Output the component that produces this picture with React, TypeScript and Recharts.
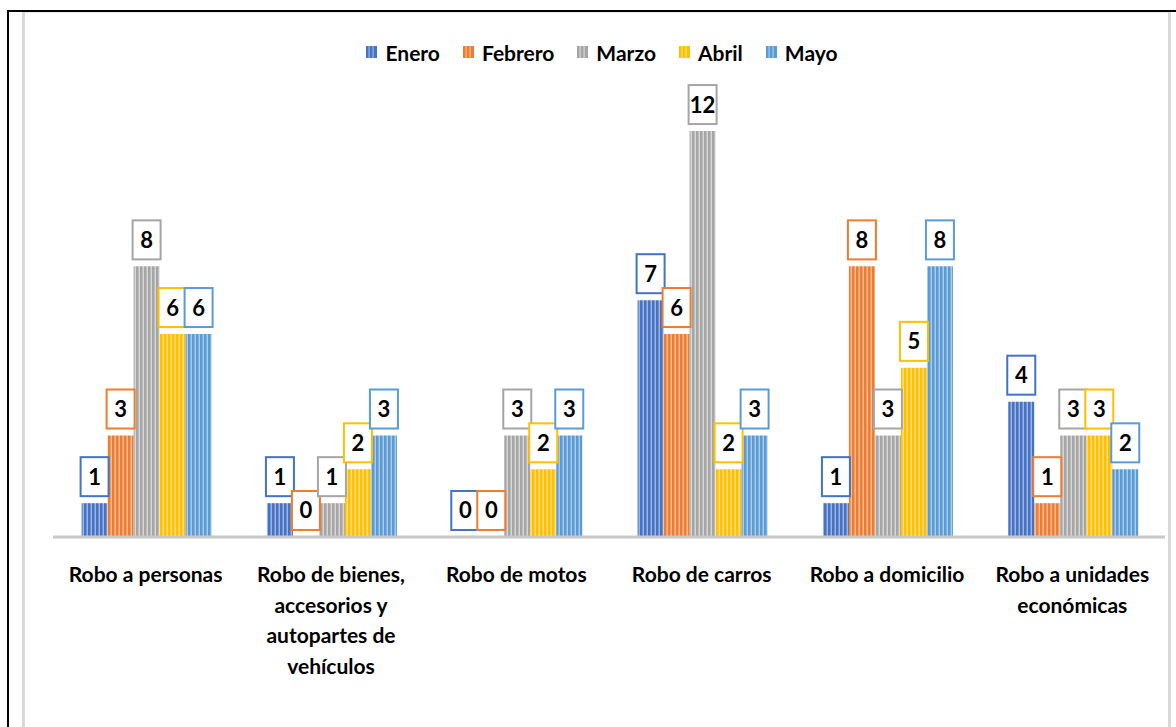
import React from "react";
import { BarChart, Bar, XAxis, YAxis, LabelList, Legend } from "recharts";

const categories = [
  "Robo a personas",
  "Robo de bienes,\naccesorios y\nautopartes de\nvehículos",
  "Robo de motos",
  "Robo de carros",
  "Robo a domicilio",
  "Robo a unidades\neconómicas",
];
const enero = [1, 1, 0, 7, 1, 4];
const febrero = [3, 0, 0, 6, 8, 1];
const marzo = [8, 1, 3, 12, 3, 3];
const abril = [6, 2, 2, 2, 5, 3];
const mayo = [6, 3, 3, 3, 8, 2];

const seriesNames = ["Enero", "Febrero", "Marzo", "Abril", "Mayo"];
const seriesValues = [enero, febrero, marzo, abril, mayo];
const seriesColors = ["#4472C4", "#ED7D31", "#A5A5A5", "#FFC000", "#5B9BD5"];
const seriesLight = ["#9DB4E0", "#F6BC95", "#D6D6D6", "#FFDF80", "#A8CBEA"];

const data = categories.map((c, i) => {
  const row: any = { category: c };
  seriesNames.forEach((s, j) => (row[s] = seriesValues[j][i]));
  return row;
});

const FONT = "Lato, 'Open Sans', sans-serif";

const CategoryTick = (props: any) => {
  const { x, y, payload } = props;
  const lines = String(payload.value).split("\n");
  return (
    <text x={x} y={y} textAnchor="middle" fontFamily={FONT} fontWeight={700} fontSize={21} fill="#000">
      {lines.map((l: string, i: number) => (
        <tspan key={i} x={x} dy={i === 0 ? 43 : 30.5}>
          {l}
        </tspan>
      ))}
    </text>
  );
};

const makeLabel = (color: string) => (props: any) => {
  const { x, y, width, value } = props;
  const cx = Number(x) + Number(width) / 2;
  const top = Number(y);
  const bw = 28;
  const bh = 39;
  const by = top - 7 - bh;
  return (
    <g>
      <rect x={cx - bw / 2} y={by} width={bw} height={bh} fill="#fff" stroke={color} strokeWidth={2} />
      <text x={cx} y={by + bh / 2 + 8} textAnchor="middle" fontFamily={FONT} fontWeight={700} fontSize={22} fill="#000">
        {value}
      </text>
    </g>
  );
};

const LegendContent = () => (
  <div style={{ display: "flex", justifyContent: "center", alignItems: "center", height: 28, fontFamily: FONT, fontWeight: 700, fontSize: 21, color: "#000", marginLeft: -14 }}>
    {seriesNames.map((s, j) => (
      <div key={s} style={{ display: "flex", alignItems: "center", marginRight: j < 4 ? 23 : 0 }}>
        <svg width={11} height={12} style={{ marginRight: 8, flexShrink: 0 }}>
          <rect x={0} y={0} width={11} height={12} fill={seriesColors[j]} />
          <rect x={2.5} y={0} width={1.2} height={12} fill={seriesLight[j]} />
          <rect x={6.5} y={0} width={1.2} height={12} fill={seriesLight[j]} />
        </svg>
        <span>{s}</span>
      </div>
    ))}
  </div>
);

export default function App() {
  return (
    <div style={{ position: "absolute", left: 0, top: 0, width: 1176, height: 727, background: "#fff" }}>
      <div style={{ position: "absolute", left: 7, top: 10, width: 1169, height: 2, background: "#000" }} />
      <div style={{ position: "absolute", left: 7, top: 10, width: 2, height: 717, background: "#000" }} />
      <div style={{ position: "absolute", left: 22, top: 12, width: 1148, height: 1, background: "#e6e6e6" }} />
      <div style={{ position: "absolute", left: 22, top: 12, width: 3, height: 715, background: "#d9d9d9" }} />
      <div style={{ position: "absolute", left: 1168, top: 12, width: 3, height: 715, background: "#d9d9d9" }} />
      <div style={{ position: "absolute", left: 0, top: 0 }}>
        <BarChart
          width={1176}
          height={727}
          data={data}
          margin={{ top: 35.4, right: 11, bottom: 40, left: 53 }}
          barGap={0}
          barCategoryGap={28.6}
        >
          <defs>
            {seriesColors.map((c, j) => (
              <pattern key={j} id={`pat${j}`} patternUnits="userSpaceOnUse" width={4} height={10}>
                <rect x={0} y={0} width={4} height={10} fill={c} />
                <rect x={2.5} y={0} width={1.5} height={10} fill={seriesLight[j]} />
              </pattern>
            ))}
          </defs>
          <Legend verticalAlign="top" height={28} wrapperStyle={{ top: 38 }} content={<LegendContent />} />
          <XAxis
            dataKey="category"
            axisLine={{ stroke: "#c8c8c8", strokeWidth: 3 }}
            tickLine={false}
            tickSize={0}
            height={150}
            interval={0}
            tick={<CategoryTick />}
          />
          <YAxis hide domain={[0, 14]} ticks={[0, 2, 4, 6, 8, 10, 12, 14]} />
          {seriesNames.map((s, j) => (
            <Bar key={s} dataKey={s} fill={`url(#pat${j})`} minPointSize={0.01} isAnimationActive={false}>
              <LabelList dataKey={s} content={makeLabel(seriesColors[j])} />
            </Bar>
          ))}
        </BarChart>
      </div>
    </div>
  );
}
